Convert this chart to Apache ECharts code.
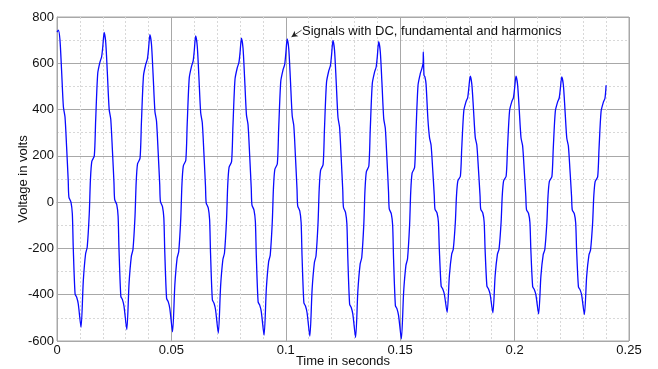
<!DOCTYPE html>
<html>
<head>
<meta charset="utf-8">
<script src="https://cdn.jsdelivr.net/npm/echarts@6/dist/echarts.min.js"></script>
<style>html,body{margin:0;padding:0;background:#fff;}#c{width:658px;height:369px;}</style>
</head>
<body>
<div id="c"></div>
<script>
// Time samples (seconds)
const timeSec = [
  0.0000,0.0006,0.0013,0.0020,0.0028,0.0035,0.0042,0.0049,0.0052,0.0061,0.0067,0.0071,0.0079,0.0086,0.0093,0.0105,0.0115,0.0125,0.0132,0.0141,0.0146,0.0152,0.0163,0.0169,0.0178,0.0188,0.0195,
  0.0200,0.0206,0.0213,0.0220,0.0228,0.0235,0.0242,0.0249,0.0252,0.0261,0.0267,0.0271,0.0279,0.0286,0.0293,0.0305,0.0315,0.0325,0.0332,0.0341,0.0346,0.0352,0.0363,0.0369,0.0378,0.0388,0.0395,
  0.0400,0.0406,0.0413,0.0420,0.0428,0.0435,0.0442,0.0449,0.0452,0.0461,0.0467,0.0471,0.0479,0.0486,0.0493,0.0505,0.0515,0.0525,0.0532,0.0541,0.0546,0.0552,0.0563,0.0569,0.0578,0.0588,0.0595,
  0.0600,0.0606,0.0613,0.0620,0.0628,0.0635,0.0642,0.0649,0.0652,0.0661,0.0667,0.0671,0.0679,0.0686,0.0693,0.0705,0.0715,0.0725,0.0732,0.0741,0.0746,0.0752,0.0763,0.0769,0.0778,0.0788,0.0795,
  0.0800,0.0806,0.0813,0.0820,0.0828,0.0835,0.0842,0.0849,0.0852,0.0861,0.0867,0.0871,0.0879,0.0886,0.0893,0.0905,0.0915,0.0925,0.0932,0.0941,0.0946,0.0952,0.0963,0.0969,0.0978,0.0988,0.0995,
  0.1000,0.1006,0.1013,0.1020,0.1028,0.1035,0.1042,0.1049,0.1052,0.1061,0.1067,0.1071,0.1079,0.1086,0.1093,0.1105,0.1115,0.1125,0.1132,0.1141,0.1146,0.1152,0.1163,0.1169,0.1178,0.1188,0.1195,
  0.1200,0.1206,0.1213,0.1220,0.1228,0.1235,0.1242,0.1249,0.1252,0.1261,0.1267,0.1271,0.1279,0.1286,0.1293,0.1305,0.1315,0.1325,0.1332,0.1341,0.1346,0.1352,0.1363,0.1369,0.1378,0.1388,0.1395,
  0.1400,0.1406,0.1413,0.1420,0.1428,0.1435,0.1442,0.1449,0.1452,0.1461,0.1467,0.1471,0.1479,0.1486,0.1493,0.1505,0.1515,0.1525,0.1532,0.1541,0.1546,0.1552,0.1563,0.1569,0.1578,0.1588,0.1595,
  0.1600,0.1601,0.1604,0.1608,0.1613,0.1621,0.1628,0.1635,0.1642,0.1649,0.1652,0.1661,0.1667,0.1671,0.1679,0.1686,0.1693,0.1705,0.1715,0.1725,0.1732,0.1741,0.1746,0.1752,0.1763,0.1769,0.1778,0.1788,0.1795,
  0.1800,0.1806,0.1813,0.1820,0.1828,0.1835,0.1842,0.1849,0.1852,0.1861,0.1867,0.1871,0.1879,0.1886,0.1893,0.1905,0.1915,0.1925,0.1932,0.1941,0.1946,0.1952,0.1963,0.1969,0.1978,0.1988,0.1995,
  0.2000,0.2006,0.2013,0.2020,0.2028,0.2035,0.2042,0.2049,0.2052,0.2061,0.2067,0.2071,0.2079,0.2086,0.2093,0.2105,0.2115,0.2125,0.2132,0.2141,0.2146,0.2152,0.2163,0.2169,0.2178,0.2188,0.2195,
  0.2200,0.2206,0.2213,0.2220,0.2228,0.2235,0.2242,0.2249,0.2252,0.2261,0.2267,0.2271,0.2279,0.2286,0.2293,0.2305,0.2315,0.2325,0.2332,0.2341,0.2346,0.2352,0.2363,0.2369,0.2378,0.2388,0.2395,
  0.2400
];
// Voltage samples (volts)
const voltage = [
  735,743,700,570,411,368,238,94,22,0,-50,-195,-397,-411,-440,-541,-339,-223,-195,-50,94,175,200,354,556,606,628,
  670,733,690,560,401,358,228,84,12,-10,-60,-205,-407,-421,-450,-551,-349,-233,-205,-60,84,165,190,344,546,596,618,
  661,724,681,551,392,349,219,75,3,-19,-69,-214,-416,-430,-459,-560,-358,-242,-214,-69,75,156,181,335,537,587,609,
  655,718,675,545,386,343,213,69,-3,-25,-75,-220,-422,-436,-465,-566,-364,-248,-220,-75,69,150,175,329,531,581,603,
  646,709,666,536,377,334,204,60,-12,-34,-84,-229,-431,-445,-474,-575,-373,-257,-229,-84,60,141,166,320,522,572,594,
  642,705,662,532,373,330,200,56,-16,-38,-88,-233,-435,-449,-478,-579,-377,-261,-233,-88,56,137,162,316,518,568,590,
  636,699,656,526,367,324,194,50,-22,-44,-94,-239,-441,-455,-484,-585,-383,-267,-239,-94,50,131,156,310,512,562,584,
  630,693,650,520,361,318,188,44,-28,-50,-100,-245,-447,-461,-490,-591,-389,-273,-245,-100,44,125,150,304,506,556,578,
  600,649,548,541,510,360,280,246,142,27,-30,-47,-87,-203,-363,-375,-398,-476,-317,-225,-203,-87,27,92,112,234,395,435,452,
  494,544,510,406,280,246,142,27,-30,-47,-87,-203,-363,-375,-398,-478,-317,-225,-203,-87,27,92,112,234,395,435,452,
  492,544,508,404,278,244,140,25,-32,-49,-89,-205,-365,-377,-400,-483,-319,-227,-205,-89,25,90,110,232,393,433,450,
  491,541,507,403,277,243,139,24,-33,-50,-90,-206,-366,-378,-401,-486,-320,-228,-206,-90,24,89,109,231,392,432,449,
  505
];
const xTicks = [0, 0.05, 0.1, 0.15, 0.2, 0.25];
const yTicks = [-600, -400, -200, 0, 200, 400, 600, 800];
const annotationText = 'Signals with DC, fundamental and harmonics';
const annotationTail = [0.1069, 743];
const annotationTip = [0.1025, 714];
const annotationLabelAt = [0.1071, 737];

const data = timeSec.map((t, i) => [t, voltage[i]]);
const FONT = 'Liberation Sans, Arial, Helvetica, sans-serif';

const chart = echarts.init(document.getElementById('c'), null, {renderer: 'canvas'});
chart.setOption({
  animation: false,
  backgroundColor: '#ffffff',
  grid: {left: 57, right: 29, top: 17, bottom: 28, show: true, borderColor: '#a8a8a8', borderWidth: 1,
    containLabel: false, outerBoundsMode: 'none'},
  xAxis: {
    type: 'value', min: xTicks[0], max: xTicks[xTicks.length - 1], interval: 0.05,
    name: 'Time in seconds', nameLocation: 'middle', nameGap: 14, nameMoveOverlap: false,
    nameTextStyle: {color: '#111', fontSize: 13, fontFamily: FONT},
    axisLine: {show: true, lineStyle: {color: '#a8a8a8', width: 1}},
    axisTick: {show: false},
    axisLabel: {color: '#111', fontSize: 13, fontFamily: FONT, margin: 3,
      formatter: v => { const m = xTicks.find(t => Math.abs(t - v) < 1e-9); return m === undefined ? '' : String(m); }},
    splitLine: {show: true, lineStyle: {color: '#a8a8a8', width: 1}},
    minorTick: {show: false, splitNumber: 5},
    minorSplitLine: {show: true, lineStyle: {color: '#d8d8d8', width: 1, type: [2, 2]}}
  },
  yAxis: {
    type: 'value', min: yTicks[0], max: yTicks[yTicks.length - 1], interval: 200,
    name: 'Voltage in volts', nameLocation: 'middle', nameGap: 27, nameRotate: 90, nameMoveOverlap: false,
    nameTextStyle: {color: '#111', fontSize: 13, fontFamily: FONT},
    axisLine: {show: true, lineStyle: {color: '#a8a8a8', width: 1}},
    axisTick: {show: false},
    axisLabel: {color: '#111', fontSize: 13, fontFamily: FONT, margin: 3},
    splitLine: {show: true, lineStyle: {color: '#a8a8a8', width: 1}},
    minorTick: {show: false, splitNumber: 2},
    minorSplitLine: {show: true, lineStyle: {color: '#d8d8d8', width: 1, type: [2, 2]}}
  },
  series: [{
    type: 'line',
    data: data,
    showSymbol: false,
    symbol: 'none',
    smooth: 0.25,
    lineStyle: {color: '#0a0aff', width: 1.3},
    markLine: {
      silent: true,
      animation: false,
      symbol: ['none', 'arrow'],
      symbolSize: [5, 6],
      label: {show: false},
      lineStyle: {color: '#222', width: 0.8, type: 'solid'},
      data: [[{coord: annotationTail}, {coord: annotationTip}]]
    },
    markPoint: {
      silent: true,
      symbol: 'circle',
      symbolSize: 0,
      itemStyle: {color: 'transparent'},
      label: {show: true, position: 'right', distance: 0, color: '#111', fontSize: 13, fontFamily: FONT,
        formatter: annotationText},
      data: [{coord: annotationLabelAt}]
    }
  }]
});
</script>
</body>
</html>
